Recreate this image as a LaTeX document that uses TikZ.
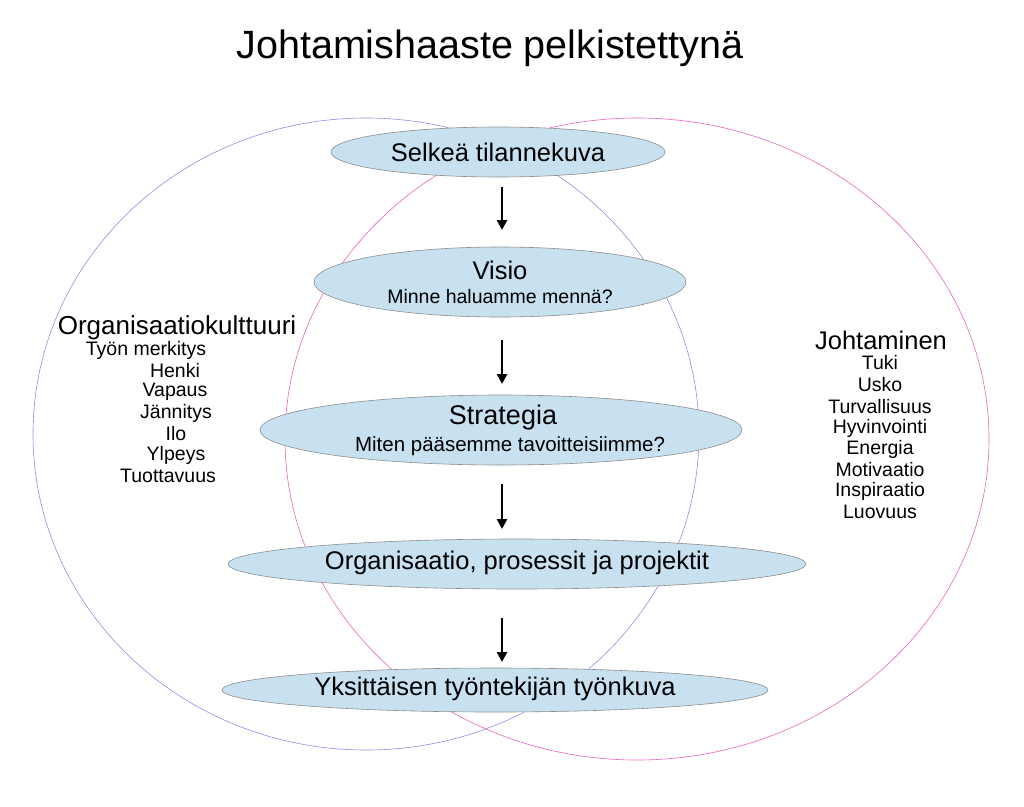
\documentclass[tikz,border=0pt]{standalone}
\usepackage{fontspec}
\setmainfont{Liberation Sans}
\usetikzlibrary{arrows.meta}
\definecolor{bubfill}{RGB}{200,225,240}
\begin{document}
\begin{tikzpicture}[x=1pt,y=-1pt,
  bub/.style={draw=black!45,fill=bubfill,line width=0.6pt},
  flow/.style={-{Triangle[length=10pt,width=10pt]},line width=2.8pt},
  big/.style={font=\fontsize{25.5}{28}\selectfont},
  small/.style={font=\fontsize{19.5}{22}\selectfont},
  lst/.style={font=\fontsize{19.5}{21}\selectfont,inner sep=0pt}]
\useasboundingbox[fill=white] (0,0) rectangle (1024,806);
\node[font=\fontsize{39.5}{44}\selectfont] (title) at (490,48) {Johtamishaaste pelkistettynä};
\draw[draw={rgb,255:red,150;green,140;blue,230},line width=0.6pt] (366,434) ellipse [x radius=333,y radius=316];
\draw[draw={rgb,255:red,235;green,100;blue,190},line width=0.6pt] (637,439) ellipse [x radius=352,y radius=321];
\fill[bub] (498,152) ellipse [x radius=167,y radius=25];
\fill[bub] (500,282) ellipse [x radius=186,y radius=35];
\fill[bub] (501,430) ellipse [x radius=241,y radius=35];
\fill[bub] (517,564) ellipse [x radius=289,y radius=25];
\fill[bub] (495,690) ellipse [x radius=273,y radius=22];
\node[big] (e1) at (498,152) {Selkeä tilannekuva};
\node[big] (e2a) at (500,270) {Visio};
\node[small] (e2b) at (500,297) {Minne haluamme mennä?};
\node[big,font=\fontsize{27}{30}\selectfont] (e3a) at (503,418) {Strategia};
\node[small,font=\fontsize{20.5}{22}\selectfont] (e3b) at (510,446) {Miten pääsemme tavoitteisiimme?};
\node[big] (e4) at (517,563) {Organisaatio, prosessit ja projektit};
\node[big] (e5) at (495,689) {Yksittäisen työntekijän työnkuva};
\coordinate (a1) at (502,187); \coordinate (b1) at (502,230);
\coordinate (a2) at (502,340); \coordinate (b2) at (502,384);
\coordinate (a3) at (502,484); \coordinate (b3) at (502,529);
\coordinate (a4) at (502,618); \coordinate (b4) at (502,662);
\draw[flow] (a1) -- (b1);
\draw[flow] (a2) -- (b2);
\draw[flow] (a3) -- (b3);
\draw[flow] (a4) -- (b4);
\node[font=\fontsize{26}{30}\selectfont] (ok) at (177,328) {Organisaatiokulttuuri};
\node[lst] (l1) at (146,350) {Työn merkitys};
\node[lst] (l2) at (175,371) {Henki};
\node[lst] (l3) at (175,392) {Vapaus};
\node[lst] (l4) at (176,413) {Jännitys};
\node[lst] (l5) at (176,434) {Ilo};
\node[lst] (l6) at (176,455) {Ylpeys};
\node[lst] (l7) at (168,476) {Tuottavuus};
\node[font=\fontsize{25.5}{30}\selectfont] (jo) at (881,340) {Johtaminen};
\node[lst] (r1) at (880,363) {Tuki};
\node[lst] (r2) at (880,385) {Usko};
\node[lst] (r3) at (880,407) {Turvallisuus};
\node[lst] (r4) at (880,428) {Hyvinvointi};
\node[lst] (r5) at (880,449) {Energia};
\node[lst] (r6) at (880,470) {Motivaatio};
\node[lst] (r7) at (880,491) {Inspiraatio};
\node[lst] (r8) at (880,512) {Luovuus};
\end{tikzpicture}
\end{document}
